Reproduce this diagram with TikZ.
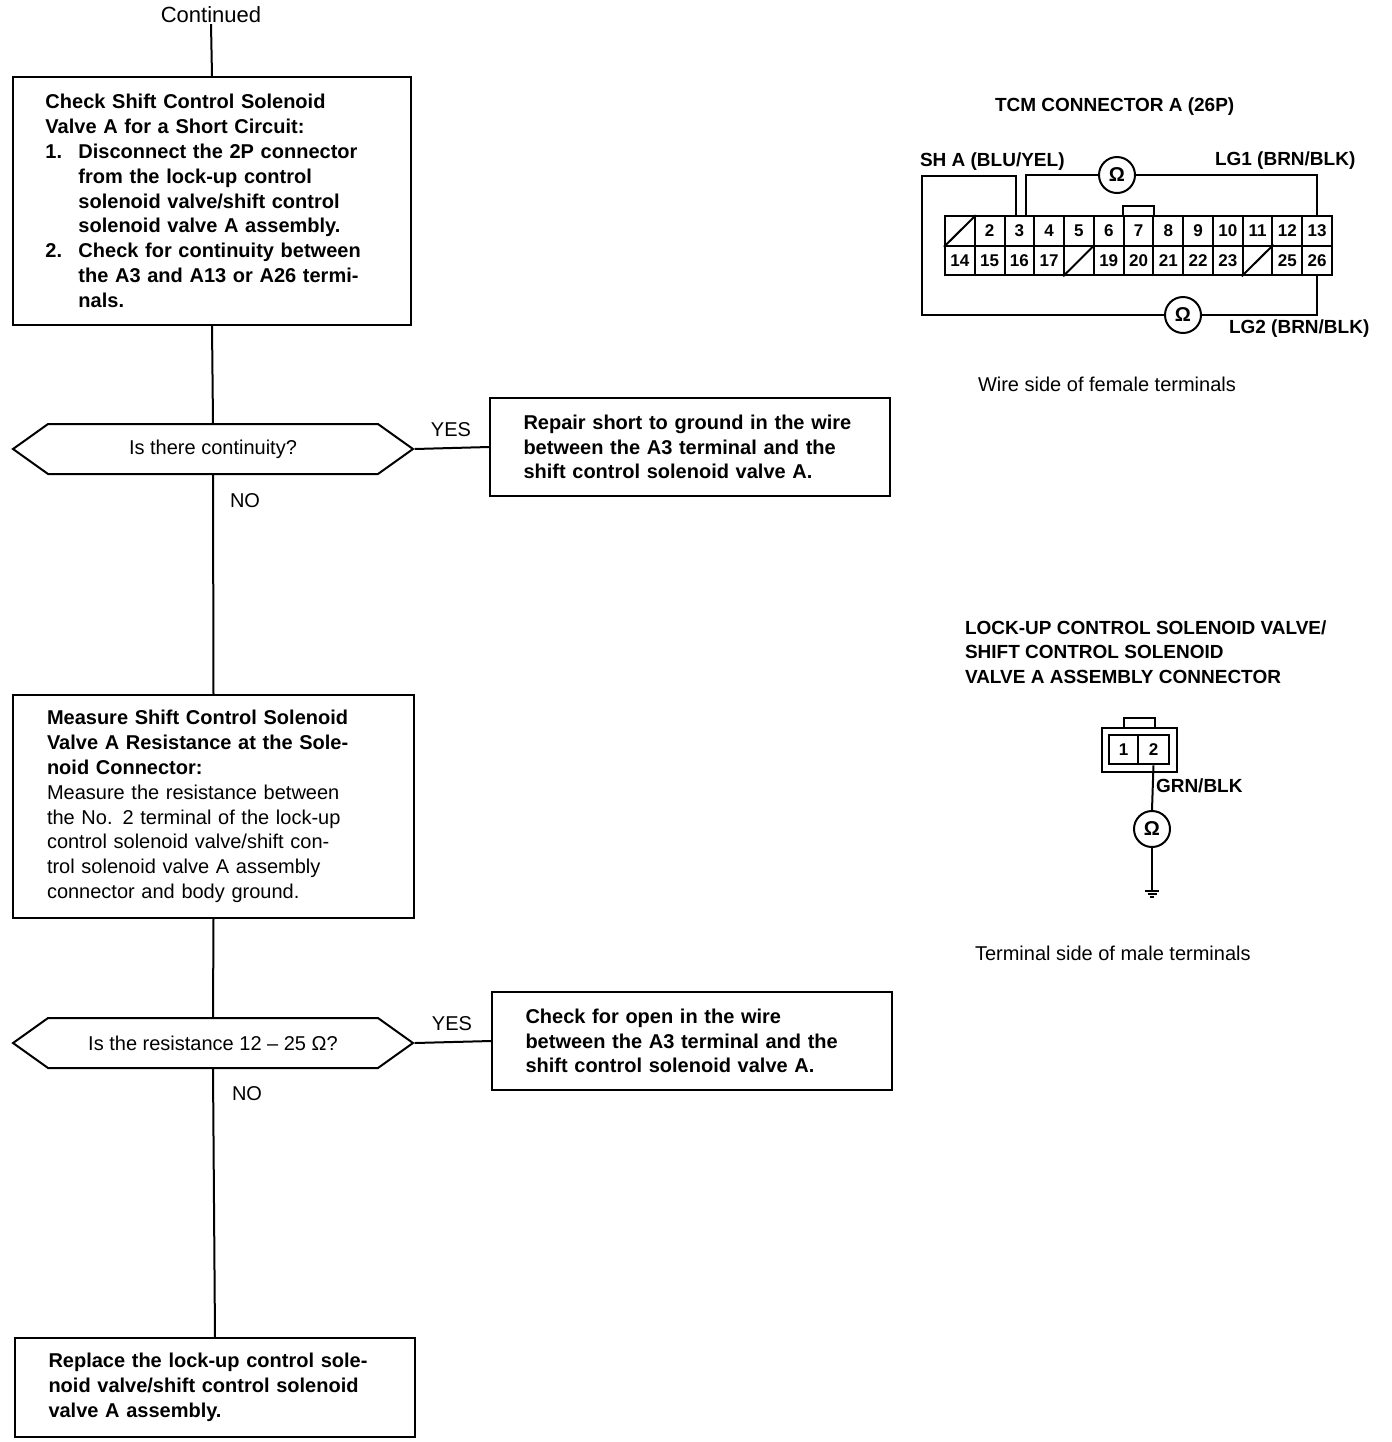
\documentclass[tikz,border=0pt]{standalone}
\usepackage{fontspec}
\setmainfont{Liberation Sans}
\usetikzlibrary{shapes.symbols,calc}
\newcommand{\jl}[1]{\makebox[\linewidth][s]{#1}\\}
\newcommand{\il}[1]{\hspace*{16.5pt}\makebox[\dimexpr\linewidth-16.5pt][s]{#1}\\}
\newcommand{\nl}[2]{\makebox[16.5pt][l]{#1}\makebox[\dimexpr\linewidth-16.5pt][s]{#2}\\}
\tikzset{
  every node/.style={font=\fontsize{10}{12.4}\selectfont},
  every path/.style={line width=1pt},
  stepbox/.style={draw,rectangle,align=left,inner ysep=0pt,inner xsep=0pt,
    font=\fontsize{10}{12.4}\selectfont\bfseries},
  decision/.style={draw,signal,signal to=east and west,signal pointer angle=71,
    minimum width=200pt,minimum height=25pt,inner sep=0pt,
    font=\fontsize{10}{12.4}\selectfont},
  answer/.style={inner sep=0pt,font=\fontsize{10}{12}\selectfont},
  heading/.style={inner sep=0pt,anchor=west,font=\fontsize{9.5}{12.4}\selectfont\bfseries},
  plain/.style={inner sep=0pt,anchor=west,font=\fontsize{10}{12}\selectfont},
  meter/.style={draw,circle,minimum size=18pt,inner sep=0pt,font=\fontsize{10}{12}\selectfont\bfseries},
  cell/.style={draw,rectangle,minimum width=14.9pt,minimum height=14.8pt,inner sep=0pt,
    font=\fontsize{8.5}{10}\selectfont\bfseries},
}
\begin{document}
\begin{tikzpicture}[x=0.5pt,y=-0.5pt]
\useasboundingbox (0,0) rectangle (1392,1442);
% flow chart
\node[inner sep=0pt,font=\fontsize{11}{12}\selectfont] (cont) at (211,15) {Continued};
\node[stepbox,minimum width=199pt,minimum height=124pt,text width=166.5pt] (b1) at (212,201) {%
 \jl{Check Shift Control Solenoid}
 Valve A for a Short Circuit:\\
 \nl{1.}{Disconnect the 2P connector}
 \il{from the lock-up control}
 \il{solenoid valve/shift control}
 \hspace*{16.5pt}solenoid valve A assembly.\\
 \nl{2.}{Check for continuity between}
 \il{the A3 and A13 or A26 termi-}
 \hspace*{16.5pt}nals.};
\node[decision] (d1) at (213,449) {Is there continuity?};
\node[stepbox,minimum width=200pt,minimum height=49pt,text width=166.5pt] (y1) at (690,447) {%
 \jl{Repair short to ground in the wire}
 \jl{between the A3 terminal and the}
 shift control solenoid valve A.};
\node[stepbox,minimum width=200.5pt,minimum height=111.5pt,text width=166.5pt] (b2) at (213.5,806.5) {%
 \jl{Measure Shift Control Solenoid}
 \jl{Valve A Resistance at the Sole-}
 noid Connector:\\
 \mdseries\jl{Measure the resistance between}
 \jl{the No. 2 terminal of the lock-up}
 \jl{control solenoid valve/shift con-}
 \jl{trol solenoid valve A assembly}
 connector and body ground.};
\node[decision] (d2) at (213,1043) {Is the resistance 12 -- 25 Ω?};
\node[stepbox,minimum width=200pt,minimum height=49pt,text width=166.5pt] (y2) at (692,1041) {%
 \jl{Check for open in the wire}
 \jl{between the A3 terminal and the}
 shift control solenoid valve A.};
\node[stepbox,minimum width=200pt,minimum height=49.5pt,text width=166.5pt] (b3) at (215,1387.5) {%
 \jl{Replace the lock-up control sole-}
 \jl{noid valve/shift control solenoid}
 valve A assembly.};
\node[answer] (yes1) at (451,430) {YES};
\node[answer] (no1) at (245,501) {NO};
\node[answer] (yes2) at (452,1024) {YES};
\node[answer] (no2) at (247,1094) {NO};
\draw (cont.south) -- (b1.north);
\draw (b1.south) -- (d1.north);
\draw (d1.east) -- (y1.west);
\draw (d1.south) -- (b2.north);
\draw (b2.south) -- (d2.north);
\draw (d2.east) -- (y2.west);
\draw (d2.south) -- (b3.north);
% TCM connector
\node[heading] (t1) at (994,107) {TCM CONNECTOR A (26P)};
\foreach \i/\t in {1/,2/2,3/3,4/4,5/5,6/6,7/7,8/8,9/9,10/10,11/11,12/12,13/13}
  \node[cell] (c\i) at ({945+29.77*(\i-.5)},231) {\t};
\foreach \i/\t in {14/14,15/15,16/16,17/17,18/,19/19,20/20,21/21,22/22,23/23,24/,25/25,26/26}
  \node[cell] (c\i) at ({945+29.77*(\i-13.5)},260.5) {\t};
\foreach \i in {1,18,24}
  \draw (c\i.south west) -- (c\i.north east);
\draw (c7.north west) -- ++(0,-9) -| (c7.north east);
\node[meter] (om1) at (1117,175) {Ω};
\node[meter] (om2) at (1183,315) {Ω};
\coordinate (lt) at (922,176);
\draw ([xshift=-1.7pt]c3.north) |- (lt) |- (om2.west);
\draw ([xshift=3.2pt]c3.north) |- (om1.west);
\draw (om1.east) -| (c13.north);
\draw (om2.east) -| (c26.south);
\node[heading] (sh) at (919,162) {SH A (BLU/YEL)};
\node[heading] (lg1) at (1214,161) {LG1 (BRN/BLK)};
\node[heading] (lg2) at (1228,329) {LG2 (BRN/BLK)};
\node[plain] (w1) at (977,384) {Wire side of female terminals};
% solenoid connector
\node[heading] (h1) at (964,628) {LOCK-UP CONTROL SOLENOID VALVE/};
\node[heading] (h2) at (964,652) {SHIFT CONTROL SOLENOID};
\node[heading] (h3) at (964,677) {VALVE A ASSEMBLY CONNECTOR};
\node[draw,rectangle,minimum width=37.5pt,minimum height=22pt,inner sep=0pt] (shell) at (1139.5,750) {};
\node[cell,minimum width=14.5pt] (p1) at (1123.5,749.5) {1};
\node[cell,minimum width=15.5pt] (p2) at (1153.5,749.5) {2};
\draw ([xshift=-8pt]shell.north) -- ++(0,-9) -| ([xshift=7.5pt]shell.north);
\node[meter] (om3) at (1152,829) {Ω};
\node[heading] (gb) at (1155,786) {GRN/BLK};
\coordinate (g) at (1152,891);
\draw (p2.south) -- (om3.north);
\draw (om3.south) -- (g);
\draw ($(g)+(-7,0)$) -- ($(g)+(7,0)$);
\draw ($(g)+(-4.5,3)$) -- ($(g)+(4.5,3)$);
\draw ($(g)+(-2,6)$) -- ($(g)+(2,6)$);
\node[plain] (w2) at (974,953) {Terminal side of male terminals};
\end{tikzpicture}
\end{document}
